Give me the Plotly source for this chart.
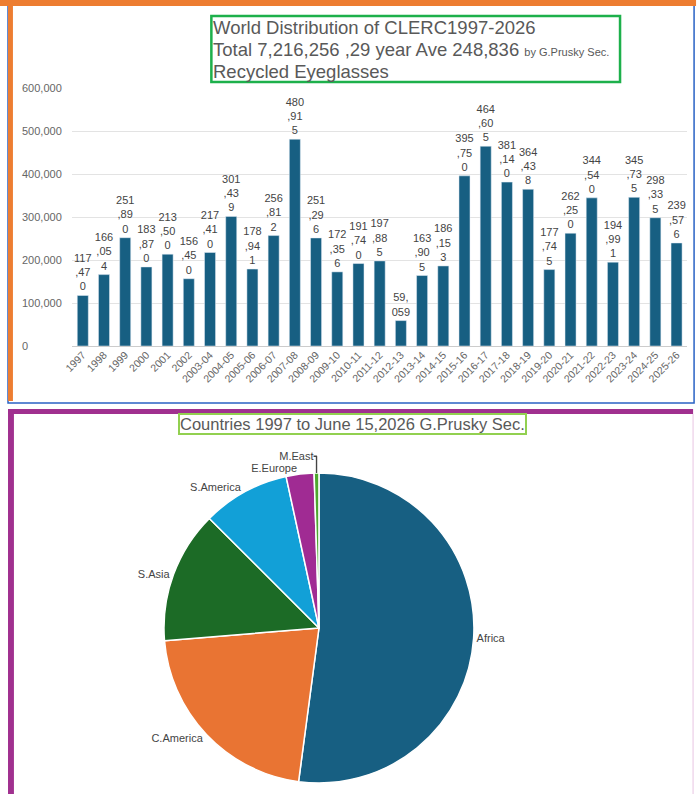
import plotly.graph_objects as go

W, H = 700, 794
DX = -3  # the page lands a few pixels to the right, pull everything back

# --- bar chart data: recycled eyeglasses distributed per year ---
years = ["1997", "1998", "1999", "2000", "2001", "2002", "2003-04", "2004-05",
         "2005-06", "2006-07", "2007-08", "2008-09", "2009-10", "2010-11",
         "2011-12", "2012-13", "2013-14", "2014-15", "2015-16", "2016-17",
         "2017-18", "2018-19", "2019-20", "2020-21", "2021-22", "2022-23",
         "2023-24", "2024-25", "2025-26"]
glasses = [117470, 166054, 251890, 183870, 213500, 156450, 217410, 301439,
           178941, 256812, 480915, 251296, 172356, 191740, 197885, 59059,
           163905, 186153, 395750, 464605, 381140, 364438, 177745, 262250,
           344540, 194991, 345735, 298335, 239576]
y_ticks = [0, 100000, 200000, 300000, 400000, 500000, 600000]

title_lines = [
    "World Distribution of CLERC1997-2026",
    "Total 7,216,256 ,29 year Ave 248,836 <span style='font-size:11px'>by G.Prusky Sec.</span>",
    "Recycled Eyeglasses",
]

# --- pie chart data: share by region ---
regions = ["Africa", "C.America", "S.Asia", "S.America", "E.Europe", "M.East"]
shares = [52.1, 21.6, 13.8, 9.1, 2.9, 0.5]
region_colors = ["#175f82", "#e97433", "#1c6b26", "#12a0d7", "#a02b93", "#4ea72e"]


def px(x):
    return (x + DX) / W


def py(y):
    return 1 - y / H


# the data labels wrap every 3 characters in the original chart
def wrap3(v):
    s = f"{v:,}"
    return "<br>".join(s[i:i + 3] for i in range(0, len(s), 3))


fig = go.Figure()

fig.add_trace(go.Bar(
    x=years, y=glasses,
    marker=dict(color="#175f82"),
    text=[wrap3(v) for v in glasses],
    textposition="outside",
    textangle=0,
    constraintext="none",
    cliponaxis=False,
    textfont=dict(size=11, color="#444444"),
    xaxis="x", yaxis="y",
    showlegend=False,
))

fig.add_trace(go.Pie(
    labels=regions, values=shares,
    marker=dict(colors=region_colors, line=dict(color="white", width=1.5)),
    sort=False, direction="clockwise", rotation=0,
    textinfo="label", textposition="outside",
    textfont=dict(size=11, color="#444444"),
    domain=dict(x=[px(160), px(474)], y=[py(785), py(471)]),
    showlegend=False,
    automargin=False,
))

# y tick labels are left aligned in the original, so they are annotations
tick_notes = [
    dict(x=px(14), xref="paper", xanchor="left", y=t, yref="y", yanchor="middle",
         text=f"{t:,}", showarrow=False, font=dict(size=11, color="#666666"))
    for t in y_ticks
]

# three title lines, tighter than plotly's own line spacing
title_notes = [
    dict(x=px(208), y=py(28 + 21.5 * i), xref="paper", yref="paper",
         xanchor="left", yanchor="middle", showarrow=False,
         text=line, font=dict(size=18.5, color="#595959"))
    for i, line in enumerate(title_lines)
]
title_notes.append(
    dict(x=px(351), y=py(424), xref="paper", yref="paper", xanchor="center", yanchor="middle",
         showarrow=False,
         text="Countries 1997 to June 15,2026 G.Prusky Sec.",
         font=dict(size=16.5, color="#595959"),
         bordercolor="#92d050", borderwidth=2, borderpad=0)
)

frame = [
    # top panel
    dict(type="rect", xref="paper", yref="paper", x0=px(2), x1=px(697), y0=py(403), y1=py(5),
         line=dict(color="#2a62c4", width=1.5)),
    dict(type="rect", xref="paper", yref="paper", x0=px(-10), x1=px(699), y0=py(6), y1=1,
         line=dict(width=0), fillcolor="#ed7d31"),
    dict(type="rect", xref="paper", yref="paper", x0=px(2), x1=px(7), y0=py(401), y1=py(6),
         line=dict(width=0), fillcolor="#ed7d31"),
    # title box
    dict(type="rect", xref="paper", yref="paper", x0=px(208), x1=px(622), y0=py(82), y1=py(16),
         line=dict(color="#1db04b", width=2.5)),
    # bottom panel
    dict(type="rect", xref="paper", yref="paper", x0=px(2), x1=px(696), y0=py(414), y1=py(409),
         line=dict(width=0), fillcolor="#a0308f"),
    dict(type="rect", xref="paper", yref="paper", x0=px(2), x1=px(8), y0=0, y1=py(409),
         line=dict(width=0), fillcolor="#a0308f"),
    dict(type="line", xref="paper", yref="paper", x0=px(696), x1=px(696), y0=0, y1=py(414),
         line=dict(color="#f0d8ec", width=1.5)),
]

fig.update_layout(
    width=W, height=H,
    margin=dict(l=0, r=0, t=0, b=0),
    paper_bgcolor="white", plot_bgcolor="white",
    font=dict(family="Liberation Sans, Arial, sans-serif"),
    bargap=0.48,
    xaxis=dict(type="category", domain=[px(67), px(690)], tickangle=-45, showgrid=False,
               tickfont=dict(size=10.5, color="#666666"), ticks="", showline=False,
               fixedrange=True),
    yaxis=dict(domain=[py(346), py(88)], range=[0, 600000], tickvals=y_ticks,
               showticklabels=False, gridcolor="#e3e3e3", gridwidth=1,
               zeroline=True, zerolinecolor="#cccccc", zerolinewidth=1),
    annotations=tick_notes + title_notes,
    shapes=frame,
)

# drop the browser's default page margins so the figure sits at the window corner
page_fix = (
    "document.documentElement.style.margin='0px';"
    "document.body.style.margin='0px';"
    "document.body.style.padding='0px';"
    "document.body.style.overflow='hidden';"
)
fig.write_html("out.html", config={"displayModeBar": False}, post_script=page_fix)
